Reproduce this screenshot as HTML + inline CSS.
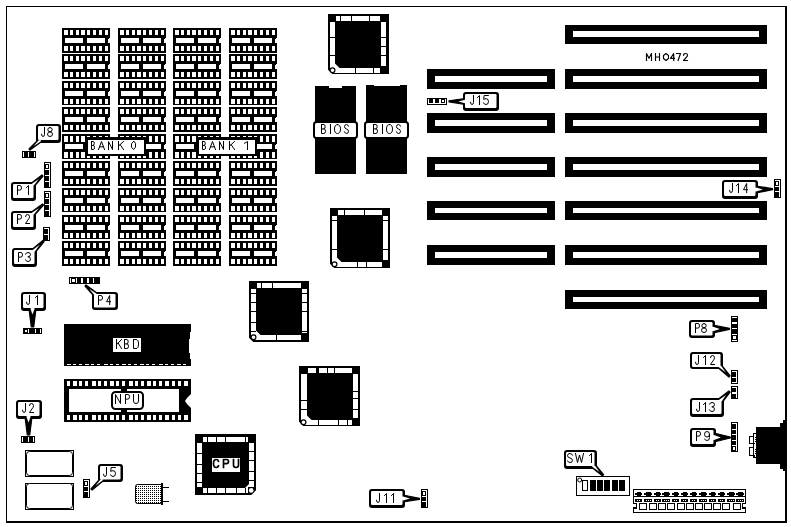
<!DOCTYPE html>
<html><head><meta charset="utf-8"><title>MH0472</title>
<style>
html,body{margin:0;padding:0;background:#fff;}
body{width:791px;height:527px;overflow:hidden;}
svg{display:block;font-family:"Liberation Sans",sans-serif;}
</style></head><body>
<svg width="791" height="527" viewBox="0 0 791 527" shape-rendering="crispEdges">
<rect x="0" y="0" width="791" height="527" fill="#fff"/>
<rect x="6" y="6" width="781" height="1" fill="#000" />
<rect x="6" y="6" width="1" height="517" fill="#000" />
<rect x="785" y="6" width="2" height="517" fill="#000" />
<rect x="6" y="521" width="781" height="2" fill="#000" />
<defs><g id="mc">
<rect x="0" y="0" width="48" height="25" fill="#000" />
<rect x="2" y="2" width="4" height="5" fill="#fff" />
<rect x="2" y="18" width="4" height="5" fill="#fff" />
<rect x="8" y="2" width="3" height="5" fill="#fff" />
<rect x="8" y="18" width="3" height="5" fill="#fff" />
<rect x="14" y="2" width="3" height="5" fill="#fff" />
<rect x="14" y="18" width="3" height="5" fill="#fff" />
<rect x="19" y="2" width="4" height="5" fill="#fff" />
<rect x="19" y="18" width="4" height="5" fill="#fff" />
<rect x="25" y="2" width="3" height="5" fill="#fff" />
<rect x="25" y="18" width="3" height="5" fill="#fff" />
<rect x="31" y="2" width="3" height="5" fill="#fff" />
<rect x="31" y="18" width="3" height="5" fill="#fff" />
<rect x="37" y="2" width="3" height="5" fill="#fff" />
<rect x="37" y="18" width="3" height="5" fill="#fff" />
<rect x="43" y="2" width="3" height="5" fill="#fff" />
<rect x="43" y="18" width="3" height="5" fill="#fff" />
<rect x="3" y="10" width="18" height="5" fill="#fff" />
<rect x="25" y="10" width="18" height="5" fill="#fff" />
<rect x="46" y="11" width="2" height="4" fill="#fff" />
<rect x="47" y="10" width="1" height="1" fill="#fff" />
</g><g id="md">
<rect x="0" y="0" width="48" height="24" fill="#000" />
<rect x="2" y="2" width="4" height="5" fill="#fff" />
<rect x="2" y="18" width="4" height="5" fill="#fff" />
<rect x="8" y="2" width="3" height="5" fill="#fff" />
<rect x="8" y="18" width="3" height="5" fill="#fff" />
<rect x="14" y="2" width="3" height="5" fill="#fff" />
<rect x="14" y="18" width="3" height="5" fill="#fff" />
<rect x="19" y="2" width="4" height="5" fill="#fff" />
<rect x="19" y="18" width="4" height="5" fill="#fff" />
<rect x="25" y="2" width="3" height="5" fill="#fff" />
<rect x="25" y="18" width="3" height="5" fill="#fff" />
<rect x="31" y="2" width="3" height="5" fill="#fff" />
<rect x="31" y="18" width="3" height="5" fill="#fff" />
<rect x="37" y="2" width="3" height="5" fill="#fff" />
<rect x="37" y="18" width="3" height="5" fill="#fff" />
<rect x="43" y="2" width="3" height="5" fill="#fff" />
<rect x="43" y="18" width="3" height="5" fill="#fff" />
<rect x="3" y="10" width="18" height="5" fill="#fff" />
<rect x="25" y="10" width="18" height="5" fill="#fff" />
<rect x="46" y="11" width="2" height="4" fill="#fff" />
<rect x="47" y="10" width="1" height="1" fill="#fff" />
</g><g id="me">
<rect x="0" y="0" width="48" height="25" fill="#000" />
<rect x="2" y="2" width="4" height="6" fill="#fff" />
<rect x="2" y="18" width="4" height="6" fill="#fff" />
<rect x="8" y="2" width="3" height="6" fill="#fff" />
<rect x="8" y="18" width="3" height="6" fill="#fff" />
<rect x="14" y="2" width="3" height="6" fill="#fff" />
<rect x="14" y="18" width="3" height="6" fill="#fff" />
<rect x="19" y="2" width="4" height="6" fill="#fff" />
<rect x="19" y="18" width="4" height="6" fill="#fff" />
<rect x="25" y="2" width="3" height="6" fill="#fff" />
<rect x="25" y="18" width="3" height="6" fill="#fff" />
<rect x="31" y="2" width="3" height="6" fill="#fff" />
<rect x="31" y="18" width="3" height="6" fill="#fff" />
<rect x="37" y="2" width="3" height="6" fill="#fff" />
<rect x="37" y="18" width="3" height="6" fill="#fff" />
<rect x="43" y="2" width="3" height="6" fill="#fff" />
<rect x="43" y="18" width="3" height="6" fill="#fff" />
<rect x="3" y="10" width="18" height="5" fill="#fff" />
<rect x="25" y="10" width="18" height="5" fill="#fff" />
<rect x="46" y="11" width="2" height="4" fill="#fff" />
<rect x="47" y="10" width="1" height="1" fill="#fff" />
</g></defs>
<use href="#mc" x="62" y="28"/>
<use href="#mc" x="62" y="54"/>
<use href="#md" x="62" y="81"/>
<use href="#mc" x="62" y="107"/>
<use href="#me" x="62" y="134"/>
<use href="#mc" x="62" y="161"/>
<use href="#md" x="62" y="188"/>
<use href="#md" x="62" y="215"/>
<use href="#mc" x="62" y="241"/>
<use href="#mc" x="118" y="28"/>
<use href="#mc" x="118" y="54"/>
<use href="#md" x="118" y="81"/>
<use href="#mc" x="118" y="107"/>
<use href="#me" x="118" y="134"/>
<use href="#mc" x="118" y="161"/>
<use href="#md" x="118" y="188"/>
<use href="#md" x="118" y="215"/>
<use href="#mc" x="118" y="241"/>
<use href="#mc" x="173" y="28"/>
<use href="#mc" x="173" y="54"/>
<use href="#md" x="173" y="81"/>
<use href="#mc" x="173" y="107"/>
<use href="#me" x="173" y="134"/>
<use href="#mc" x="173" y="161"/>
<use href="#md" x="173" y="188"/>
<use href="#md" x="173" y="215"/>
<use href="#mc" x="173" y="241"/>
<use href="#mc" x="229" y="28"/>
<use href="#mc" x="229" y="54"/>
<use href="#md" x="229" y="81"/>
<use href="#mc" x="229" y="107"/>
<use href="#me" x="229" y="134"/>
<use href="#mc" x="229" y="161"/>
<use href="#md" x="229" y="188"/>
<use href="#md" x="229" y="215"/>
<use href="#mc" x="229" y="241"/>
<rect x="565" y="25" width="202" height="19" fill="#000" />
<rect x="573" y="31" width="186" height="6" fill="#fff" />
<rect x="565" y="69" width="202" height="20" fill="#000" />
<rect x="573" y="76" width="186" height="6" fill="#fff" />
<rect x="565" y="113" width="202" height="20" fill="#000" />
<rect x="573" y="120" width="186" height="6" fill="#fff" />
<rect x="565" y="157" width="202" height="20" fill="#000" />
<rect x="573" y="164" width="186" height="6" fill="#fff" />
<rect x="565" y="201" width="202" height="19" fill="#000" />
<rect x="573" y="208" width="186" height="5" fill="#fff" />
<rect x="565" y="245" width="202" height="20" fill="#000" />
<rect x="573" y="252" width="186" height="6" fill="#fff" />
<rect x="565" y="290" width="202" height="19" fill="#000" />
<rect x="573" y="297" width="186" height="5" fill="#fff" />
<rect x="427" y="69" width="128" height="20" fill="#000" />
<rect x="435" y="76" width="112" height="6" fill="#fff" />
<rect x="427" y="113" width="128" height="20" fill="#000" />
<rect x="435" y="120" width="112" height="6" fill="#fff" />
<rect x="427" y="157" width="128" height="20" fill="#000" />
<rect x="435" y="164" width="112" height="6" fill="#fff" />
<rect x="427" y="201" width="128" height="19" fill="#000" />
<rect x="435" y="208" width="112" height="5" fill="#fff" />
<rect x="427" y="245" width="128" height="20" fill="#000" />
<rect x="435" y="252" width="112" height="6" fill="#fff" />
<rect x="328" y="14" width="61" height="60" fill="#000" />
<rect x="336" y="16" width="44" height="5" fill="#fff" />
<rect x="336" y="68" width="44" height="5" fill="#fff" />
<rect x="330" y="22" width="5" height="45" fill="#fff" />
<rect x="381" y="22" width="5" height="44" fill="#fff" />
<rect x="340" y="16" width="1" height="5" fill="#000" />
<rect x="351" y="16" width="1" height="5" fill="#000" />
<rect x="369" y="16" width="1" height="5" fill="#000" />
<rect x="355" y="68" width="1" height="5" fill="#000" />
<rect x="373" y="68" width="1" height="5" fill="#000" />
<rect x="330" y="37" width="5" height="1" fill="#000" />
<rect x="330" y="55" width="5" height="1" fill="#000" />
<rect x="381" y="37" width="5" height="1" fill="#000" />
<rect x="381" y="46" width="5" height="1" fill="#000" />
<rect x="381" y="55" width="5" height="1" fill="#000" />
<polygon points="328,69.5 328,74 332.5,74" fill="#fff" shape-rendering="auto"/>
<rect x="330" y="67" width="5" height="4" fill="#fff" />
<rect x="332" y="68" width="4" height="5" fill="#fff" />
<polygon points="335,63.5 335,68 339.5,68" fill="#fff" shape-rendering="auto"/>
<line x1="328.5" y1="69" x2="333" y2="73.5" stroke="#000" stroke-width="1.6" shape-rendering="auto"/>
<circle cx="332.5" cy="70.3" r="2.4" fill="#fff" stroke="#000" stroke-width="1.2" shape-rendering="auto"/>
<rect x="330" y="208" width="60" height="60" fill="#000" />
<rect x="338" y="210" width="44" height="5" fill="#fff" />
<rect x="338" y="262" width="44" height="5" fill="#fff" />
<rect x="332" y="216" width="5" height="45" fill="#fff" />
<rect x="383" y="216" width="5" height="44" fill="#fff" />
<rect x="344" y="210" width="1" height="5" fill="#000" />
<rect x="364" y="210" width="1" height="5" fill="#000" />
<rect x="357" y="262" width="1" height="5" fill="#000" />
<rect x="366" y="262" width="1" height="5" fill="#000" />
<rect x="332" y="220" width="5" height="1" fill="#000" />
<rect x="332" y="249" width="5" height="1" fill="#000" />
<rect x="383" y="220" width="5" height="1" fill="#000" />
<rect x="383" y="249" width="5" height="1" fill="#000" />
<polygon points="330,263.5 330,268 334.5,268" fill="#fff" shape-rendering="auto"/>
<rect x="332" y="261" width="5" height="4" fill="#fff" />
<rect x="334" y="262" width="4" height="5" fill="#fff" />
<polygon points="337,257.5 337,262 341.5,262" fill="#fff" shape-rendering="auto"/>
<line x1="330.5" y1="263" x2="335" y2="267.5" stroke="#000" stroke-width="1.6" shape-rendering="auto"/>
<circle cx="334.5" cy="264.3" r="2.4" fill="#fff" stroke="#000" stroke-width="1.2" shape-rendering="auto"/>
<rect x="249" y="281" width="60" height="61" fill="#000" />
<rect x="257" y="283" width="44" height="5" fill="#fff" />
<rect x="257" y="335" width="44" height="5" fill="#fff" />
<rect x="251" y="289" width="5" height="45" fill="#fff" />
<rect x="302" y="289" width="5" height="44" fill="#fff" />
<rect x="261" y="283" width="1" height="5" fill="#000" />
<rect x="272" y="283" width="1" height="5" fill="#000" />
<rect x="276" y="335" width="1" height="5" fill="#000" />
<rect x="251" y="293" width="5" height="1" fill="#000" />
<rect x="251" y="302" width="5" height="1" fill="#000" />
<rect x="251" y="311" width="5" height="1" fill="#000" />
<rect x="251" y="322" width="5" height="1" fill="#000" />
<rect x="251" y="331" width="5" height="1" fill="#000" />
<rect x="302" y="293" width="5" height="1" fill="#000" />
<rect x="302" y="302" width="5" height="1" fill="#000" />
<rect x="302" y="311" width="5" height="1" fill="#000" />
<rect x="302" y="331" width="5" height="1" fill="#000" />
<polygon points="249,337.5 249,342 253.5,342" fill="#fff" shape-rendering="auto"/>
<rect x="251" y="334" width="5" height="4" fill="#fff" />
<rect x="253" y="335" width="4" height="5" fill="#fff" />
<polygon points="256,330.5 256,335 260.5,335" fill="#fff" shape-rendering="auto"/>
<line x1="249.5" y1="337" x2="254" y2="341.5" stroke="#000" stroke-width="1.6" shape-rendering="auto"/>
<circle cx="253.5" cy="337.3" r="2.4" fill="#fff" stroke="#000" stroke-width="1.2" shape-rendering="auto"/>
<rect x="299" y="366" width="61" height="60" fill="#000" />
<rect x="308" y="368" width="44" height="5" fill="#fff" />
<rect x="308" y="420" width="44" height="5" fill="#fff" />
<rect x="301" y="374" width="6" height="45" fill="#fff" />
<rect x="353" y="374" width="5" height="44" fill="#fff" />
<rect x="316" y="368" width="1" height="5" fill="#000" />
<rect x="317" y="368" width="1" height="5" fill="#000" />
<rect x="318" y="368" width="1" height="5" fill="#000" />
<rect x="327" y="368" width="1" height="5" fill="#000" />
<rect x="334" y="368" width="1" height="5" fill="#000" />
<rect x="318" y="420" width="1" height="5" fill="#000" />
<rect x="338" y="420" width="1" height="5" fill="#000" />
<rect x="347" y="420" width="1" height="5" fill="#000" />
<rect x="301" y="400" width="6" height="1" fill="#000" />
<rect x="301" y="409" width="6" height="1" fill="#000" />
<rect x="353" y="391" width="5" height="1" fill="#000" />
<rect x="353" y="398" width="5" height="1" fill="#000" />
<rect x="353" y="409" width="5" height="1" fill="#000" />
<polygon points="299,421.5 299,426 303.5,426" fill="#fff" shape-rendering="auto"/>
<rect x="301" y="419" width="6" height="4" fill="#fff" />
<rect x="303" y="420" width="5" height="5" fill="#fff" />
<polygon points="307,415.5 307,420 311.5,420" fill="#fff" shape-rendering="auto"/>
<line x1="299.5" y1="421" x2="304" y2="425.5" stroke="#000" stroke-width="1.6" shape-rendering="auto"/>
<circle cx="303.5" cy="422.3" r="2.4" fill="#fff" stroke="#000" stroke-width="1.2" shape-rendering="auto"/>
<rect x="195" y="434" width="61" height="61" fill="#000" />
<rect x="203" y="437" width="45" height="5" fill="#fff" />
<rect x="203" y="488" width="45" height="5" fill="#fff" />
<rect x="197" y="443" width="5" height="44" fill="#fff" />
<rect x="249" y="443" width="5" height="43" fill="#fff" />
<rect x="207" y="437" width="1" height="5" fill="#000" />
<rect x="216" y="437" width="1" height="5" fill="#000" />
<rect x="225" y="437" width="1" height="5" fill="#000" />
<rect x="245" y="437" width="1" height="5" fill="#000" />
<rect x="207" y="488" width="1" height="5" fill="#000" />
<rect x="216" y="488" width="1" height="5" fill="#000" />
<rect x="225" y="488" width="1" height="5" fill="#000" />
<rect x="236" y="488" width="1" height="5" fill="#000" />
<rect x="245" y="488" width="1" height="5" fill="#000" />
<rect x="197" y="453" width="5" height="1" fill="#000" />
<rect x="197" y="464" width="5" height="1" fill="#000" />
<rect x="197" y="473" width="5" height="1" fill="#000" />
<rect x="197" y="482" width="5" height="1" fill="#000" />
<rect x="249" y="451" width="5" height="1" fill="#000" />
<rect x="249" y="460" width="5" height="1" fill="#000" />
<rect x="249" y="471" width="5" height="1" fill="#000" />
<rect x="249" y="480" width="5" height="1" fill="#000" />
<polygon points="256,490.5 256,495 251.5,495" fill="#fff" shape-rendering="auto"/>
<polygon points="249,484 249,488 245,488" fill="#fff" shape-rendering="auto"/>
<rect x="247" y="488" width="2" height="5" fill="#fff" />
<rect x="249" y="485" width="5" height="2" fill="#fff" />
<rect x="248" y="487" width="6" height="7" fill="#000" />
<polygon points="256,490.5 256,495 251.5,495" fill="#fff" shape-rendering="auto"/>
<circle cx="251.2" cy="490.4" r="2.3" fill="#fff" shape-rendering="auto"/>
<rect x="212" y="458" width="28" height="14" fill="#fff" />
<g fill="none" stroke="#000" stroke-width="1.7" stroke-linecap="square" stroke-linejoin="round" shape-rendering="auto"><path transform="translate(213.5,459.5) scale(1.000,0.889)" d="M5,2 Q4.5,0 2.7,0 Q0,0 0,4.5 Q0,9 2.7,9 Q4.5,9 5,7" vector-effect="non-scaling-stroke"/><path transform="translate(223.5,459.5) scale(1.000,0.889)" d="M0,9 V0 H3 Q5,0 5,2.3 Q5,4.6 3,4.6 H0" vector-effect="non-scaling-stroke"/><path transform="translate(233.5,459.5) scale(1.000,0.889)" d="M0,0 V6.6 Q0,9 2.5,9 Q5,9 5,6.6 V0" vector-effect="non-scaling-stroke"/></g>
<rect x="315" y="86" width="41" height="88" fill="#000" />
<rect x="329" y="86" width="13" height="2" fill="#fff" />
<rect x="366" y="85" width="41" height="89" fill="#000" />
<rect x="374" y="85" width="26" height="1" fill="#fff" />
<rect x="314.0" y="122.0" width="43" height="16" rx="2.5" ry="2.5" fill="#fff" stroke="#000" stroke-width="2" shape-rendering="auto"/>
<g fill="none" stroke="#000" stroke-width="1.0" stroke-linecap="square" stroke-linejoin="round" shape-rendering="auto"><path transform="translate(321.5,124.5) scale(0.800,1.000)" d="M0,0 V9 H3 Q5,9 5,6.7 Q5,4.4 3,4.4 H0 M3,4.4 Q4.6,4.4 4.6,2.2 Q4.6,0 3,0 H0" vector-effect="non-scaling-stroke"/><path transform="translate(330.5,124.5) scale(1.000,1.000)" d="M0,0 V9" vector-effect="non-scaling-stroke"/><path transform="translate(334.5,124.5) scale(0.857,1.000)" d="M3.5,0 Q0,0 0,4.5 Q0,9 3.5,9 Q7,9 7,4.5 Q7,0 3.5,0" vector-effect="non-scaling-stroke"/><path transform="translate(344.5,124.5) scale(0.800,1.000)" d="M5,1.6 Q4.4,0 2.5,0 Q0,0 0,2.2 Q0,3.9 2.5,4.5 Q5,5.1 5,6.8 Q5,9 2.5,9 Q0.6,9 0,7.4" vector-effect="non-scaling-stroke"/></g>
<rect x="365.0" y="122.0" width="43" height="16" rx="2.5" ry="2.5" fill="#fff" stroke="#000" stroke-width="2" shape-rendering="auto"/>
<g fill="none" stroke="#000" stroke-width="1.0" stroke-linecap="square" stroke-linejoin="round" shape-rendering="auto"><path transform="translate(373.5,124.5) scale(0.800,1.000)" d="M0,0 V9 H3 Q5,9 5,6.7 Q5,4.4 3,4.4 H0 M3,4.4 Q4.6,4.4 4.6,2.2 Q4.6,0 3,0 H0" vector-effect="non-scaling-stroke"/><path transform="translate(382.5,124.5) scale(1.000,1.000)" d="M0,0 V9" vector-effect="non-scaling-stroke"/><path transform="translate(386.5,124.5) scale(0.857,1.000)" d="M3.5,0 Q0,0 0,4.5 Q0,9 3.5,9 Q7,9 7,4.5 Q7,0 3.5,0" vector-effect="non-scaling-stroke"/><path transform="translate(396.5,124.5) scale(0.800,1.000)" d="M5,1.6 Q4.4,0 2.5,0 Q0,0 0,2.2 Q0,3.9 2.5,4.5 Q5,5.1 5,6.8 Q5,9 2.5,9 Q0.6,9 0,7.4" vector-effect="non-scaling-stroke"/></g>
<rect x="64" y="324" width="127" height="42" fill="#000" />
<rect x="190" y="332" width="1" height="27" fill="#fff" />
<rect x="189" y="339" width="1" height="14" fill="#fff" />
<rect x="67" y="364" width="4" height="1" fill="#fff" />
<rect x="73" y="364" width="3" height="1" fill="#fff" />
<rect x="79" y="364" width="3" height="1" fill="#fff" />
<rect x="85" y="364" width="4" height="1" fill="#fff" />
<rect x="91" y="364" width="3" height="1" fill="#fff" />
<rect x="97" y="364" width="3" height="1" fill="#fff" />
<rect x="104" y="364" width="4" height="1" fill="#fff" />
<rect x="110" y="364" width="3" height="1" fill="#fff" />
<rect x="116" y="364" width="3" height="1" fill="#fff" />
<rect x="122" y="364" width="4" height="1" fill="#fff" />
<rect x="128" y="364" width="3" height="1" fill="#fff" />
<rect x="134" y="364" width="3" height="1" fill="#fff" />
<rect x="140" y="364" width="4" height="1" fill="#fff" />
<rect x="146" y="364" width="3" height="1" fill="#fff" />
<rect x="152" y="364" width="3" height="1" fill="#fff" />
<rect x="159" y="364" width="4" height="1" fill="#fff" />
<rect x="165" y="364" width="3" height="1" fill="#fff" />
<rect x="171" y="364" width="3" height="1" fill="#fff" />
<rect x="177" y="364" width="4" height="1" fill="#fff" />
<rect x="183" y="364" width="3" height="1" fill="#fff" />
<rect x="113" y="338" width="28" height="14" fill="#fff" />
<g fill="none" stroke="#000" stroke-width="1.0" stroke-linecap="square" stroke-linejoin="round" shape-rendering="auto"><path transform="translate(116.5,339.5) scale(1.000,1.000)" d="M0,0 V9 M5,0 L0,5.2 M1.7,3.6 L5,9" vector-effect="non-scaling-stroke"/><path transform="translate(124.5,339.5) scale(0.800,1.000)" d="M0,0 V9 H3 Q5,9 5,6.7 Q5,4.4 3,4.4 H0 M3,4.4 Q4.6,4.4 4.6,2.2 Q4.6,0 3,0 H0" vector-effect="non-scaling-stroke"/><path transform="translate(133.5,339.5) scale(1.000,1.000)" d="M0,0 V9 H2.5 Q5,9 5,4.5 Q5,0 2.5,0 H0" vector-effect="non-scaling-stroke"/></g>
<rect x="64" y="379" width="127" height="43" fill="#000" />
<rect x="67" y="381" width="3" height="5" fill="#fff" />
<rect x="67" y="415" width="3" height="5" fill="#fff" />
<rect x="73" y="381" width="4" height="5" fill="#fff" />
<rect x="73" y="415" width="4" height="5" fill="#fff" />
<rect x="79" y="381" width="3" height="5" fill="#fff" />
<rect x="79" y="415" width="3" height="5" fill="#fff" />
<rect x="85" y="381" width="3" height="5" fill="#fff" />
<rect x="85" y="415" width="3" height="5" fill="#fff" />
<rect x="92" y="381" width="4" height="5" fill="#fff" />
<rect x="92" y="415" width="4" height="5" fill="#fff" />
<rect x="98" y="381" width="3" height="5" fill="#fff" />
<rect x="98" y="415" width="3" height="5" fill="#fff" />
<rect x="104" y="381" width="3" height="5" fill="#fff" />
<rect x="104" y="415" width="3" height="5" fill="#fff" />
<rect x="110" y="381" width="4" height="5" fill="#fff" />
<rect x="110" y="415" width="4" height="5" fill="#fff" />
<rect x="116" y="381" width="3" height="5" fill="#fff" />
<rect x="116" y="415" width="3" height="5" fill="#fff" />
<rect x="122" y="381" width="3" height="5" fill="#fff" />
<rect x="122" y="415" width="3" height="5" fill="#fff" />
<rect x="129" y="381" width="4" height="5" fill="#fff" />
<rect x="129" y="415" width="4" height="5" fill="#fff" />
<rect x="135" y="381" width="3" height="5" fill="#fff" />
<rect x="135" y="415" width="3" height="5" fill="#fff" />
<rect x="141" y="381" width="3" height="5" fill="#fff" />
<rect x="141" y="415" width="3" height="5" fill="#fff" />
<rect x="147" y="381" width="4" height="5" fill="#fff" />
<rect x="147" y="415" width="4" height="5" fill="#fff" />
<rect x="153" y="381" width="3" height="5" fill="#fff" />
<rect x="153" y="415" width="3" height="5" fill="#fff" />
<rect x="159" y="381" width="3" height="5" fill="#fff" />
<rect x="159" y="415" width="3" height="5" fill="#fff" />
<rect x="165" y="381" width="4" height="5" fill="#fff" />
<rect x="165" y="415" width="4" height="5" fill="#fff" />
<rect x="172" y="381" width="3" height="5" fill="#fff" />
<rect x="172" y="415" width="3" height="5" fill="#fff" />
<rect x="178" y="381" width="3" height="5" fill="#fff" />
<rect x="178" y="415" width="3" height="5" fill="#fff" />
<rect x="184" y="381" width="4" height="5" fill="#fff" />
<rect x="184" y="415" width="4" height="5" fill="#fff" />
<rect x="69" y="389" width="110" height="23" fill="#fff" />
<rect x="121" y="389" width="6" height="23" fill="#000" />
<polygon points="191,394 191,408 187,404 185,401 187,398" fill="#fff" shape-rendering="auto"/>
<rect x="112.0" y="392.0" width="31" height="17" rx="3.5" ry="3.5" fill="#fff" stroke="#000" stroke-width="2" shape-rendering="auto"/>
<rect x="142" y="394" width="1" height="13" fill="#000" />
<g fill="none" stroke="#000" stroke-width="1.0" stroke-linecap="square" stroke-linejoin="round" shape-rendering="auto"><path transform="translate(115.5,394.5) scale(1.000,1.000)" d="M0,9 V0 L5,9 V0" vector-effect="non-scaling-stroke"/><path transform="translate(125.5,394.5) scale(0.800,1.000)" d="M0,9 V0 H3 Q5,0 5,2.3 Q5,4.6 3,4.6 H0" vector-effect="non-scaling-stroke"/><path transform="translate(133.5,394.5) scale(1.000,1.000)" d="M0,0 V6.6 Q0,9 2.5,9 Q5,9 5,6.6 V0" vector-effect="non-scaling-stroke"/></g>
<rect x="87" y="137" width="59" height="19" fill="#000" />
<rect x="88" y="140" width="56" height="14" fill="#fff" />
<g fill="none" stroke="#000" stroke-width="1.0" stroke-linecap="square" stroke-linejoin="round" shape-rendering="auto"><path transform="translate(91.5,141.5) scale(0.600,0.889)" d="M0,0 V9 H3 Q5,9 5,6.7 Q5,4.4 3,4.4 H0 M3,4.4 Q4.6,4.4 4.6,2.2 Q4.6,0 3,0 H0" vector-effect="non-scaling-stroke"/><path transform="translate(98.5,141.5) scale(1.000,0.889)" d="M0,9 L3,0 L6,9 M1.1,6 H4.9" vector-effect="non-scaling-stroke"/><path transform="translate(108.5,141.5) scale(0.800,0.889)" d="M0,9 V0 L5,9 V0" vector-effect="non-scaling-stroke"/><path transform="translate(118.5,141.5) scale(1.000,0.889)" d="M0,0 V9 M5,0 L0,5.2 M1.7,3.6 L5,9" vector-effect="non-scaling-stroke"/><path transform="translate(131.5,141.5) scale(1.000,0.889)" d="M2,0 L0,2.6 V6.4 L2,9 L4,6.4 V2.6 Z" vector-effect="non-scaling-stroke"/></g>
<rect x="198" y="137" width="59" height="19" fill="#000" />
<rect x="199" y="140" width="56" height="14" fill="#fff" />
<g fill="none" stroke="#000" stroke-width="1.0" stroke-linecap="square" stroke-linejoin="round" shape-rendering="auto"><path transform="translate(202.5,141.5) scale(0.600,0.889)" d="M0,0 V9 H3 Q5,9 5,6.7 Q5,4.4 3,4.4 H0 M3,4.4 Q4.6,4.4 4.6,2.2 Q4.6,0 3,0 H0" vector-effect="non-scaling-stroke"/><path transform="translate(209.5,141.5) scale(1.000,0.889)" d="M0,9 L3,0 L6,9 M1.1,6 H4.9" vector-effect="non-scaling-stroke"/><path transform="translate(219.5,141.5) scale(0.800,0.889)" d="M0,9 V0 L5,9 V0" vector-effect="non-scaling-stroke"/><path transform="translate(229.5,141.5) scale(1.000,0.889)" d="M0,0 V9 M5,0 L0,5.2 M1.7,3.6 L5,9" vector-effect="non-scaling-stroke"/><path transform="translate(244.5,141.5) scale(1.000,0.889)" d="M0,2 L3,0 V9" vector-effect="non-scaling-stroke"/></g>
<g fill="none" stroke="#000" stroke-width="1.15" stroke-linecap="square" stroke-linejoin="round" shape-rendering="auto"><path transform="translate(646.5,53.5) scale(0.833,0.778)" d="M0,9 V0 L3,6 L6,0 V9" vector-effect="non-scaling-stroke"/><path transform="translate(655.5,53.5) scale(0.800,0.778)" d="M0,0 V9 M5,0 V9 M0,4.5 H5" vector-effect="non-scaling-stroke"/><path transform="translate(663.5,53.5) scale(1.250,0.778)" d="M2,0 L0,2.6 V6.4 L2,9 L4,6.4 V2.6 Z" vector-effect="non-scaling-stroke"/><path transform="translate(670.5,53.5) scale(0.800,0.778)" d="M4,9 V0 L0,6.2 H5" vector-effect="non-scaling-stroke"/><path transform="translate(676.5,53.5) scale(0.800,0.778)" d="M0,0 H5 L2,9" vector-effect="non-scaling-stroke"/><path transform="translate(683.5,53.5) scale(0.800,0.778)" d="M0,2 Q0,0 2.5,0 Q5,0 5,2.2 Q5,3.8 3,5.5 L0,9 H5" vector-effect="non-scaling-stroke"/></g>
<polygon points="37.5,140.5 29.0,148.9 30.0,150.1 41,142" fill="#000" stroke="#000" stroke-width="1.2" stroke-linejoin="round" shape-rendering="auto"/>
<rect x="36" y="124" width="25" height="19" rx="3.0" ry="3.0" fill="#000" shape-rendering="auto"/>
<rect x="38" y="126" width="20.5" height="14" rx="1.2" ry="1.2" fill="#fff" shape-rendering="auto"/>
<polygon points="39.6,139.9 38.3,140.8 33.4,146.2 40.2,141.7 41.4,140.5" fill="#fff" shape-rendering="auto"/>
<g fill="none" stroke="#000" stroke-width="1.0" stroke-linecap="square" stroke-linejoin="round" shape-rendering="auto"><path transform="translate(41.5,127.5) scale(0.750,1.000)" d="M4,0 V6.8 Q4,9 2,9 Q0,9 0,6.8" vector-effect="non-scaling-stroke"/><path transform="translate(47.5,127.5) scale(1.000,1.000)" d="M2.5,0 Q0.3,0 0.3,2.1 Q0.3,4.3 2.5,4.3 Q4.7,4.3 4.7,2.1 Q4.7,0 2.5,0 M2.5,4.3 Q0,4.3 0,6.6 Q0,9 2.5,9 Q5,9 5,6.6 Q5,4.3 2.5,4.3" vector-effect="non-scaling-stroke"/></g>
<polygon points="31.5,183 42.0,174.9 43.0,176.1 35,185.5" fill="#000" stroke="#000" stroke-width="1.2" stroke-linejoin="round" shape-rendering="auto"/>
<rect x="11" y="182" width="25" height="19" rx="3.0" ry="3.0" fill="#000" shape-rendering="auto"/>
<rect x="13" y="184" width="20.5" height="14" rx="1.2" ry="1.2" fill="#fff" shape-rendering="auto"/>
<polygon points="31.1,184.6 32.3,183.6 38.8,179.0 34.2,184.9 32.9,185.8" fill="#fff" shape-rendering="auto"/>
<g fill="none" stroke="#000" stroke-width="1.0" stroke-linecap="square" stroke-linejoin="round" shape-rendering="auto"><path transform="translate(17.5,185.5) scale(0.800,1.000)" d="M0,9 V0 H3 Q5,0 5,2.3 Q5,4.6 3,4.6 H0" vector-effect="non-scaling-stroke"/><path transform="translate(26.5,185.5) scale(0.667,1.000)" d="M0,2 L3,0 V9" vector-effect="non-scaling-stroke"/></g>
<polygon points="31.5,212 42.5,203.9 43.5,205.1 35,214.5" fill="#000" stroke="#000" stroke-width="1.2" stroke-linejoin="round" shape-rendering="auto"/>
<rect x="11" y="211" width="25" height="19" rx="3.0" ry="3.0" fill="#000" shape-rendering="auto"/>
<rect x="13" y="213" width="20.5" height="14" rx="1.2" ry="1.2" fill="#fff" shape-rendering="auto"/>
<polygon points="31.1,213.6 32.3,212.6 39.1,208.0 34.2,213.9 32.9,214.8" fill="#fff" shape-rendering="auto"/>
<g fill="none" stroke="#000" stroke-width="1.0" stroke-linecap="square" stroke-linejoin="round" shape-rendering="auto"><path transform="translate(17.5,214.5) scale(0.800,1.000)" d="M0,9 V0 H3 Q5,0 5,2.3 Q5,4.6 3,4.6 H0" vector-effect="non-scaling-stroke"/><path transform="translate(25.5,214.5) scale(0.800,1.000)" d="M0,2 Q0,0 2.5,0 Q5,0 5,2.2 Q5,3.8 3,5.5 L0,9 H5" vector-effect="non-scaling-stroke"/></g>
<polygon points="32.5,249 42.9,240.4 44.1,241.6 36,251.5" fill="#000" stroke="#000" stroke-width="1.2" stroke-linejoin="round" shape-rendering="auto"/>
<rect x="12" y="248" width="25" height="19" rx="3.0" ry="3.0" fill="#000" shape-rendering="auto"/>
<rect x="14" y="250" width="20.5" height="14" rx="1.2" ry="1.2" fill="#fff" shape-rendering="auto"/>
<polygon points="32.1,250.6 33.3,249.6 39.8,244.7 35.2,250.9 33.9,251.8" fill="#fff" shape-rendering="auto"/>
<g fill="none" stroke="#000" stroke-width="1.0" stroke-linecap="square" stroke-linejoin="round" shape-rendering="auto"><path transform="translate(18.5,252.5) scale(0.800,1.000)" d="M0,9 V0 H3 Q5,0 5,2.3 Q5,4.6 3,4.6 H0" vector-effect="non-scaling-stroke"/><path transform="translate(25.5,252.5) scale(1.000,1.000)" d="M0,1.6 Q0.5,0 2.5,0 Q5,0 5,2.1 Q5,4.3 2.3,4.3 Q5,4.3 5,6.7 Q5,9 2.5,9 Q0.5,9 0,7.4" vector-effect="non-scaling-stroke"/></g>
<polygon points="29,309 31.3,327 33.7,327 36,309" fill="#000" stroke="#000" stroke-width="1.2" stroke-linejoin="round" shape-rendering="auto"/>
<rect x="21" y="292" width="25" height="19" rx="3.0" ry="3.0" fill="#000" shape-rendering="auto"/>
<rect x="23" y="294" width="20.5" height="14" rx="1.2" ry="1.2" fill="#fff" shape-rendering="auto"/>
<polygon points="31.1,307.5 30.5,309.0 32.5,314.4 34.5,309.0 34.3,307.4" fill="#fff" shape-rendering="auto"/>
<g fill="none" stroke="#000" stroke-width="1.0" stroke-linecap="square" stroke-linejoin="round" shape-rendering="auto"><path transform="translate(26.5,295.5) scale(0.750,1.000)" d="M4,0 V6.8 Q4,9 2,9 Q0,9 0,6.8" vector-effect="non-scaling-stroke"/><path transform="translate(35.5,295.5) scale(0.667,1.000)" d="M0,2 L3,0 V9" vector-effect="non-scaling-stroke"/></g>
<polygon points="93.5,295.5 85.0,286.1 86.0,284.9 97,293" fill="#000" stroke="#000" stroke-width="1.2" stroke-linejoin="round" shape-rendering="auto"/>
<rect x="92" y="292" width="26" height="18" rx="3.0" ry="3.0" fill="#000" shape-rendering="auto"/>
<rect x="94" y="294" width="21.5" height="13.5" rx="1.2" ry="1.2" fill="#fff" shape-rendering="auto"/>
<polygon points="95.7,295.7 94.3,294.9 89.4,289.0 96.2,293.6 97.4,294.6" fill="#fff" shape-rendering="auto"/>
<g fill="none" stroke="#000" stroke-width="1.0" stroke-linecap="square" stroke-linejoin="round" shape-rendering="auto"><path transform="translate(98.5,295.5) scale(0.800,1.000)" d="M0,9 V0 H3 Q5,0 5,2.3 Q5,4.6 3,4.6 H0" vector-effect="non-scaling-stroke"/><path transform="translate(106.5,295.5) scale(0.800,1.000)" d="M4,9 V0 L0,6.2 H5" vector-effect="non-scaling-stroke"/></g>
<polygon points="25,417 27.3,435 29.7,435 32,417" fill="#000" stroke="#000" stroke-width="1.2" stroke-linejoin="round" shape-rendering="auto"/>
<rect x="16" y="400" width="26" height="19" rx="3.0" ry="3.0" fill="#000" shape-rendering="auto"/>
<rect x="18" y="402" width="21.5" height="14" rx="1.2" ry="1.2" fill="#fff" shape-rendering="auto"/>
<polygon points="27.0,415.5 26.5,417.0 28.5,422.4 30.5,417.0 30.2,415.4" fill="#fff" shape-rendering="auto"/>
<g fill="none" stroke="#000" stroke-width="1.0" stroke-linecap="square" stroke-linejoin="round" shape-rendering="auto"><path transform="translate(22.5,403.5) scale(0.750,1.000)" d="M4,0 V6.8 Q4,9 2,9 Q0,9 0,6.8" vector-effect="non-scaling-stroke"/><path transform="translate(29.5,403.5) scale(0.800,1.000)" d="M0,2 Q0,0 2.5,0 Q5,0 5,2.2 Q5,3.8 3,5.5 L0,9 H5" vector-effect="non-scaling-stroke"/></g>
<polygon points="99.5,479.5 90.9,488.9 92.1,490.1 103,481" fill="#000" stroke="#000" stroke-width="1.2" stroke-linejoin="round" shape-rendering="auto"/>
<rect x="98" y="464" width="25" height="18" rx="3.0" ry="3.0" fill="#000" shape-rendering="auto"/>
<rect x="100" y="466" width="20.5" height="13.5" rx="1.2" ry="1.2" fill="#fff" shape-rendering="auto"/>
<polygon points="101.6,478.9 100.3,479.8 95.4,485.8 102.2,480.7 103.4,479.6" fill="#fff" shape-rendering="auto"/>
<g fill="none" stroke="#000" stroke-width="1.0" stroke-linecap="square" stroke-linejoin="round" shape-rendering="auto"><path transform="translate(103.5,467.5) scale(0.750,1.000)" d="M4,0 V6.8 Q4,9 2,9 Q0,9 0,6.8" vector-effect="non-scaling-stroke"/><path transform="translate(110.5,467.5) scale(1.000,1.000)" d="M4.8,0 H0.6 L0.2,4 Q1.2,3.2 2.5,3.2 Q5,3.2 5,6 Q5,9 2.5,9 Q0.6,9 0,7.4" vector-effect="non-scaling-stroke"/></g>
<polygon points="403,495 419.5,498.3 419.5,499.3 403,502" fill="#000" stroke="#000" stroke-width="1.2" stroke-linejoin="round" shape-rendering="auto"/>
<rect x="369" y="489" width="36" height="19" rx="3.0" ry="3.0" fill="#000" shape-rendering="auto"/>
<rect x="371" y="491" width="31.5" height="14" rx="1.2" ry="1.2" fill="#fff" shape-rendering="auto"/>
<polygon points="401.4,496.7 403.0,496.5 409.9,498.6 403.0,500.5 401.4,500.3" fill="#fff" shape-rendering="auto"/>
<g fill="none" stroke="#000" stroke-width="1.0" stroke-linecap="square" stroke-linejoin="round" shape-rendering="auto"><path transform="translate(376.5,493.5) scale(0.750,1.000)" d="M4,0 V6.8 Q4,9 2,9 Q0,9 0,6.8" vector-effect="non-scaling-stroke"/><path transform="translate(384.5,493.5) scale(0.667,1.000)" d="M0,2 L3,0 V9" vector-effect="non-scaling-stroke"/><path transform="translate(391.5,493.5) scale(0.667,1.000)" d="M0,2 L3,0 V9" vector-effect="non-scaling-stroke"/></g>
<polygon points="465,98.5 449.0,100.8 449.0,101.8 465,104.5" fill="#000" stroke="#000" stroke-width="1.2" stroke-linejoin="round" shape-rendering="auto"/>
<rect x="463" y="92" width="36" height="19" rx="3.0" ry="3.0" fill="#000" shape-rendering="auto"/>
<rect x="465" y="94" width="31.5" height="14" rx="1.2" ry="1.2" fill="#fff" shape-rendering="auto"/>
<polygon points="466.6,100.0 465.0,99.8 458.3,101.4 465.0,103.2 466.6,103.0" fill="#fff" shape-rendering="auto"/>
<g fill="none" stroke="#000" stroke-width="1.0" stroke-linecap="square" stroke-linejoin="round" shape-rendering="auto"><path transform="translate(470.5,95.5) scale(0.750,1.000)" d="M4,0 V6.8 Q4,9 2,9 Q0,9 0,6.8" vector-effect="non-scaling-stroke"/><path transform="translate(477.5,95.5) scale(0.667,1.000)" d="M0,2 L3,0 V9" vector-effect="non-scaling-stroke"/><path transform="translate(483.5,95.5) scale(1.000,1.000)" d="M4.8,0 H0.6 L0.2,4 Q1.2,3.2 2.5,3.2 Q5,3.2 5,6 Q5,9 2.5,9 Q0.6,9 0,7.4" vector-effect="non-scaling-stroke"/></g>
<polygon points="756,186 772.5,188.7 772.5,189.7 756,193" fill="#000" stroke="#000" stroke-width="1.2" stroke-linejoin="round" shape-rendering="auto"/>
<rect x="722" y="180" width="36" height="19" rx="3.0" ry="3.0" fill="#000" shape-rendering="auto"/>
<rect x="724" y="182" width="31.5" height="14" rx="1.2" ry="1.2" fill="#fff" shape-rendering="auto"/>
<polygon points="754.4,187.7 756.0,187.5 762.9,189.4 756.0,191.5 754.4,191.3" fill="#fff" shape-rendering="auto"/>
<g fill="none" stroke="#000" stroke-width="1.0" stroke-linecap="square" stroke-linejoin="round" shape-rendering="auto"><path transform="translate(729.5,183.5) scale(0.750,1.000)" d="M4,0 V6.8 Q4,9 2,9 Q0,9 0,6.8" vector-effect="non-scaling-stroke"/><path transform="translate(736.5,183.5) scale(0.667,1.000)" d="M0,2 L3,0 V9" vector-effect="non-scaling-stroke"/><path transform="translate(743.5,183.5) scale(0.800,1.000)" d="M4,9 V0 L0,6.2 H5" vector-effect="non-scaling-stroke"/></g>
<polygon points="713,325 729.5,328.3 729.5,329.3 713,333" fill="#000" stroke="#000" stroke-width="1.2" stroke-linejoin="round" shape-rendering="auto"/>
<rect x="689" y="320" width="26" height="18" rx="3.0" ry="3.0" fill="#000" shape-rendering="auto"/>
<rect x="691" y="322" width="21.5" height="13.5" rx="1.2" ry="1.2" fill="#fff" shape-rendering="auto"/>
<polygon points="711.4,327.1 713.0,326.8 719.9,328.9 713.0,331.2 711.4,330.9" fill="#fff" shape-rendering="auto"/>
<g fill="none" stroke="#000" stroke-width="1.0" stroke-linecap="square" stroke-linejoin="round" shape-rendering="auto"><path transform="translate(695.5,323.5) scale(0.800,1.000)" d="M0,9 V0 H3 Q5,0 5,2.3 Q5,4.6 3,4.6 H0" vector-effect="non-scaling-stroke"/><path transform="translate(701.5,323.5) scale(1.000,1.000)" d="M2.5,0 Q0.3,0 0.3,2.1 Q0.3,4.3 2.5,4.3 Q4.7,4.3 4.7,2.1 Q4.7,0 2.5,0 M2.5,4.3 Q0,4.3 0,6.6 Q0,9 2.5,9 Q5,9 5,6.6 Q5,4.3 2.5,4.3" vector-effect="non-scaling-stroke"/></g>
<polygon points="718.5,368 728.9,377.1 730.1,375.9 722,365.5" fill="#000" stroke="#000" stroke-width="1.2" stroke-linejoin="round" shape-rendering="auto"/>
<rect x="690" y="352" width="33" height="17" rx="3.0" ry="3.0" fill="#000" shape-rendering="auto"/>
<rect x="692" y="354" width="28.5" height="13" rx="1.2" ry="1.2" fill="#fff" shape-rendering="auto"/>
<polygon points="717.9,366.7 719.3,367.4 725.8,372.6 721.2,366.1 719.7,365.5" fill="#fff" shape-rendering="auto"/>
<g fill="none" stroke="#000" stroke-width="1.0" stroke-linecap="square" stroke-linejoin="round" shape-rendering="auto"><path transform="translate(695.5,355.5) scale(0.750,1.000)" d="M4,0 V6.8 Q4,9 2,9 Q0,9 0,6.8" vector-effect="non-scaling-stroke"/><path transform="translate(703.5,355.5) scale(0.667,1.000)" d="M0,2 L3,0 V9" vector-effect="non-scaling-stroke"/><path transform="translate(710.5,355.5) scale(0.800,1.000)" d="M0,2 Q0,0 2.5,0 Q5,0 5,2.2 Q5,3.8 3,5.5 L0,9 H5" vector-effect="non-scaling-stroke"/></g>
<polygon points="718.5,399 728.9,390.9 730.1,392.1 723,401.5" fill="#000" stroke="#000" stroke-width="1.2" stroke-linejoin="round" shape-rendering="auto"/>
<rect x="690" y="398" width="34" height="19" rx="3.0" ry="3.0" fill="#000" shape-rendering="auto"/>
<rect x="692" y="400" width="29.5" height="14" rx="1.2" ry="1.2" fill="#fff" shape-rendering="auto"/>
<polygon points="718.1,400.4 719.5,399.6 726.0,395.0 722.0,400.9 720.5,401.6" fill="#fff" shape-rendering="auto"/>
<g fill="none" stroke="#000" stroke-width="1.0" stroke-linecap="square" stroke-linejoin="round" shape-rendering="auto"><path transform="translate(696.5,402.5) scale(0.750,1.000)" d="M4,0 V6.8 Q4,9 2,9 Q0,9 0,6.8" vector-effect="non-scaling-stroke"/><path transform="translate(703.5,402.5) scale(0.667,1.000)" d="M0,2 L3,0 V9" vector-effect="non-scaling-stroke"/><path transform="translate(709.5,402.5) scale(1.000,1.000)" d="M0,1.6 Q0.5,0 2.5,0 Q5,0 5,2.1 Q5,4.3 2.3,4.3 Q5,4.3 5,6.7 Q5,9 2.5,9 Q0.5,9 0,7.4" vector-effect="non-scaling-stroke"/></g>
<polygon points="714,433 730.3,437.0 730.3,438.0 714,442" fill="#000" stroke="#000" stroke-width="1.2" stroke-linejoin="round" shape-rendering="auto"/>
<rect x="690" y="428" width="26" height="19" rx="3.0" ry="3.0" fill="#000" shape-rendering="auto"/>
<rect x="692" y="430" width="21.5" height="14" rx="1.2" ry="1.2" fill="#fff" shape-rendering="auto"/>
<polygon points="712.4,435.3 714.0,435.0 720.8,437.5 714.0,440.0 712.4,439.7" fill="#fff" shape-rendering="auto"/>
<g fill="none" stroke="#000" stroke-width="1.0" stroke-linecap="square" stroke-linejoin="round" shape-rendering="auto"><path transform="translate(696.5,431.5) scale(0.800,1.000)" d="M0,9 V0 H3 Q5,0 5,2.3 Q5,4.6 3,4.6 H0" vector-effect="non-scaling-stroke"/><path transform="translate(704.5,431.5) scale(1.000,1.000)" d="M5,2.9 Q5,5.6 2.5,5.6 Q0,5.6 0,2.8 Q0,0 2.5,0 Q5,0 5,2.9 V6 Q5,9 2.5,9 Q0.8,9 0.2,7.6" vector-effect="non-scaling-stroke"/></g>
<polygon points="592.5,468 602.4,475.9 603.6,474.7 596,465.5" fill="#000" stroke="#000" stroke-width="1.2" stroke-linejoin="round" shape-rendering="auto"/>
<rect x="564" y="450" width="33" height="19" rx="3.0" ry="3.0" fill="#000" shape-rendering="auto"/>
<rect x="566" y="452" width="28.5" height="14" rx="1.2" ry="1.2" fill="#fff" shape-rendering="auto"/>
<polygon points="591.9,466.6 593.3,467.4 599.5,471.9 595.2,466.1 593.8,465.4" fill="#fff" shape-rendering="auto"/>
<g fill="none" stroke="#000" stroke-width="1.0" stroke-linecap="square" stroke-linejoin="round" shape-rendering="auto"><path transform="translate(567.5,453.5) scale(1.000,1.000)" d="M5,1.6 Q4.4,0 2.5,0 Q0,0 0,2.2 Q0,3.9 2.5,4.5 Q5,5.1 5,6.8 Q5,9 2.5,9 Q0.6,9 0,7.4" vector-effect="non-scaling-stroke"/><path transform="translate(575.5,453.5) scale(1.000,1.000)" d="M0,0 L2,9 L4,1.5 L6,9 L8,0" vector-effect="non-scaling-stroke"/><path transform="translate(589.5,453.5) scale(0.667,1.000)" d="M0,2 L3,0 V9" vector-effect="non-scaling-stroke"/></g>
<rect x="22" y="151" width="14" height="7" fill="#000" />
<rect x="23" y="152" width="1" height="5" fill="#fff" />
<rect x="28" y="152" width="1" height="5" fill="#fff" />
<rect x="34" y="152" width="1" height="5" fill="#fff" />
<rect x="21" y="436" width="14" height="7" fill="#000" />
<rect x="22" y="437" width="1" height="5" fill="#fff" />
<rect x="28" y="437" width="1" height="5" fill="#fff" />
<rect x="33" y="437" width="1" height="5" fill="#fff" />
<rect x="23" y="328" width="19" height="6" fill="#000" />
<rect x="25" y="330" width="2" height="2" fill="#fff" />
<rect x="28" y="329" width="1" height="4" fill="#fff" />
<rect x="35" y="329" width="1" height="4" fill="#fff" />
<rect x="40" y="329" width="1" height="4" fill="#fff" />
<rect x="427" y="98" width="20" height="7" fill="#000" />
<rect x="428" y="99" width="18" height="5" fill="#fff" />
<rect x="429" y="99" width="4" height="4" fill="#000" />
<rect x="435" y="99" width="4" height="4" fill="#000" />
<rect x="441" y="99" width="4" height="4" fill="#000" />
<rect x="442" y="100" width="2" height="2" fill="#fff" />
<rect x="69" y="277" width="31" height="7" fill="#000" />
<rect x="70" y="278" width="1" height="5" fill="#fff" />
<rect x="72" y="279" width="3" height="3" fill="#fff" />
<rect x="76" y="278" width="1" height="5" fill="#fff" />
<rect x="81" y="278" width="2" height="5" fill="#fff" />
<rect x="87" y="278" width="2" height="5" fill="#fff" />
<rect x="93" y="278" width="1" height="5" fill="#fff" />
<rect x="44" y="162" width="7" height="26" fill="#000" />
<rect x="45" y="163" width="5" height="24" fill="#fff" />
<rect x="45" y="164" width="4" height="5" fill="#000" />
<rect x="46" y="165" width="2" height="3" fill="#fff" />
<rect x="47" y="166" width="1" height="1" fill="#000" />
<rect x="47" y="166" width="1" height="1" fill="#fff" />
<rect x="45" y="170" width="4" height="5" fill="#000" />
<rect x="45" y="176" width="4" height="5" fill="#000" />
<rect x="45" y="182" width="4" height="5" fill="#000" />
<rect x="44" y="191" width="7" height="26" fill="#000" />
<rect x="45" y="192" width="5" height="24" fill="#fff" />
<rect x="45" y="193" width="4" height="5" fill="#000" />
<rect x="46" y="194" width="2" height="3" fill="#fff" />
<rect x="47" y="195" width="1" height="1" fill="#000" />
<rect x="47" y="195" width="1" height="1" fill="#fff" />
<rect x="45" y="199" width="4" height="5" fill="#000" />
<rect x="45" y="205" width="4" height="5" fill="#000" />
<rect x="45" y="211" width="4" height="5" fill="#000" />
<rect x="43" y="227" width="7" height="14" fill="#000" />
<rect x="44" y="228" width="5" height="12" fill="#fff" />
<rect x="44" y="229" width="4" height="5" fill="#000" />
<rect x="44" y="235" width="4" height="5" fill="#000" />
<rect x="83" y="479" width="7" height="19" fill="#000" />
<rect x="84" y="480" width="5" height="17" fill="#fff" />
<rect x="84" y="481" width="4" height="5" fill="#000" />
<rect x="85" y="482" width="2" height="3" fill="#fff" />
<rect x="86" y="483" width="1" height="1" fill="#000" />
<rect x="86" y="483" width="1" height="1" fill="#fff" />
<rect x="84" y="487" width="4" height="4" fill="#000" />
<rect x="84" y="492" width="4" height="5" fill="#000" />
<rect x="421" y="489" width="7" height="19" fill="#000" />
<rect x="422" y="490" width="5" height="17" fill="#fff" />
<rect x="422" y="491" width="4" height="5" fill="#000" />
<rect x="423" y="492" width="2" height="3" fill="#fff" />
<rect x="424" y="493" width="1" height="1" fill="#000" />
<rect x="424" y="493" width="1" height="1" fill="#fff" />
<rect x="422" y="497" width="4" height="4" fill="#000" />
<rect x="422" y="502" width="4" height="5" fill="#000" />
<rect x="774" y="179" width="7" height="19" fill="#000" />
<rect x="775" y="180" width="5" height="17" fill="#fff" />
<rect x="775" y="181" width="4" height="5" fill="#000" />
<rect x="776" y="182" width="2" height="3" fill="#fff" />
<rect x="777" y="183" width="1" height="1" fill="#000" />
<rect x="777" y="183" width="1" height="1" fill="#fff" />
<rect x="775" y="187" width="4" height="4" fill="#000" />
<rect x="775" y="192" width="4" height="5" fill="#000" />
<rect x="731" y="316" width="7" height="26" fill="#000" />
<rect x="732" y="317" width="5" height="1" fill="#fff" />
<rect x="732" y="322" width="5" height="2" fill="#fff" />
<rect x="732" y="328" width="5" height="1" fill="#fff" />
<rect x="732" y="334" width="5" height="1" fill="#fff" />
<rect x="733" y="336" width="3" height="3" fill="#fff" />
<rect x="732" y="340" width="5" height="1" fill="#fff" />
<rect x="731" y="370" width="7" height="14" fill="#000" />
<rect x="732" y="371" width="5" height="12" fill="#fff" />
<rect x="732" y="372" width="4" height="5" fill="#000" />
<rect x="732" y="378" width="4" height="5" fill="#000" />
<rect x="732" y="382" width="5" height="1" fill="#fff" />
<rect x="731" y="386" width="7" height="13" fill="#000" />
<rect x="732" y="387" width="5" height="11" fill="#fff" />
<rect x="732" y="388" width="4" height="4" fill="#000" />
<rect x="732" y="394" width="4" height="4" fill="#000" />
<rect x="731" y="422" width="7" height="30" fill="#000" />
<rect x="732" y="423" width="5" height="28" fill="#fff" />
<rect x="732" y="424" width="4" height="5" fill="#000" />
<rect x="732" y="430" width="4" height="4" fill="#000" />
<rect x="732" y="435" width="4" height="5" fill="#000" />
<rect x="732" y="441" width="4" height="4" fill="#000" />
<rect x="732" y="446" width="4" height="5" fill="#000" />
<rect x="733" y="447" width="2" height="3" fill="#fff" />
<rect x="734" y="448" width="1" height="1" fill="#000" />
<rect x="734" y="448" width="1" height="1" fill="#fff" />
<rect x="25" y="450" width="49" height="27" fill="#000" />
<rect x="26" y="451" width="47" height="25" fill="#fff" />
<rect x="26.5" y="451.5" width="46" height="24.0" rx="3" ry="3" fill="#fff" stroke="#000" stroke-width="1" shape-rendering="auto"/>
<rect x="25" y="483" width="49" height="27" fill="#000" />
<rect x="26" y="484" width="47" height="25" fill="#fff" />
<rect x="26.5" y="483.5" width="46" height="25.0" rx="3" ry="3" fill="#fff" stroke="#000" stroke-width="1" shape-rendering="auto"/>
<defs><pattern id="dots" x="135" y="484" width="2" height="2" patternUnits="userSpaceOnUse"><rect x="0" y="0" width="2" height="2" fill="#fff"/><rect x="1" y="0" width="1" height="1" fill="#000"/></pattern></defs>
<rect x="135.5" y="484.5" width="27" height="19" rx="2" ry="2" fill="url(#dots)" stroke="#000" stroke-width="1" shape-rendering="auto"/>
<rect x="161" y="483" width="2" height="22" fill="#000" />
<rect x="163" y="487" width="6" height="1" fill="#000" />
<rect x="163" y="501" width="6" height="1" fill="#000" />
<rect x="576" y="476" width="54" height="20" fill="#000" />
<rect x="577" y="477" width="52" height="18" fill="#fff" />
<circle cx="579.7" cy="480" r="2" fill="#fff" stroke="#000" stroke-width="1" shape-rendering="auto"/>
<rect x="582" y="480" width="6" height="11" fill="#000" />
<rect x="583" y="481" width="4" height="9" fill="#fff" />
<rect x="590" y="480" width="6" height="11" fill="#000" />
<rect x="597" y="480" width="6" height="11" fill="#000" />
<rect x="604" y="480" width="6" height="11" fill="#000" />
<rect x="612" y="480" width="6" height="11" fill="#000" />
<rect x="619" y="480" width="6" height="11" fill="#000" />
<rect x="756" y="427" width="24" height="37" fill="#000" />
<rect x="780" y="423" width="3" height="46" fill="#000" />
<rect x="783" y="420" width="2" height="51" fill="#000" />
<rect x="753" y="433" width="3" height="25" fill="#000" />
<rect x="754" y="434" width="2" height="23" fill="#fff" />
<rect x="755" y="437" width="1" height="1" fill="#000" />
<rect x="755" y="439" width="1" height="1" fill="#000" />
<rect x="755" y="441" width="1" height="1" fill="#000" />
<rect x="755" y="449" width="1" height="1" fill="#000" />
<rect x="755" y="451" width="1" height="1" fill="#000" />
<rect x="755" y="453" width="1" height="1" fill="#000" />
<rect x="754" y="443" width="1" height="1" fill="#000" />
<rect x="754" y="455" width="1" height="2" fill="#000" />
<rect x="749" y="436" width="5" height="8" fill="#000" />
<rect x="750" y="437" width="3" height="6" fill="#fff" />
<rect x="749" y="447" width="5" height="9" fill="#000" />
<rect x="750" y="448" width="3" height="7" fill="#fff" />
<rect x="633" y="489" width="113" height="24" fill="#000" />
<rect x="634" y="490" width="111" height="22" fill="#fff" />
<rect x="634" y="496" width="111" height="1" fill="#000" />
<rect x="635" y="493" width="7" height="2" fill="#000" />
<rect x="637" y="492" width="4" height="1" fill="#000" />
<rect x="637" y="495" width="4" height="1" fill="#000" />
<rect x="635" y="499" width="7" height="3" fill="#000" />
<rect x="637" y="500" width="1" height="1" fill="#fff" />
<rect x="639" y="500" width="1" height="1" fill="#fff" />
<rect x="644" y="493" width="8" height="2" fill="#000" />
<rect x="646" y="492" width="5" height="1" fill="#000" />
<rect x="646" y="495" width="5" height="1" fill="#000" />
<rect x="644" y="499" width="8" height="3" fill="#000" />
<rect x="646" y="500" width="1" height="1" fill="#fff" />
<rect x="648" y="500" width="1" height="1" fill="#fff" />
<rect x="650" y="500" width="1" height="1" fill="#fff" />
<rect x="654" y="493" width="7" height="2" fill="#000" />
<rect x="656" y="492" width="4" height="1" fill="#000" />
<rect x="656" y="495" width="4" height="1" fill="#000" />
<rect x="654" y="499" width="7" height="3" fill="#000" />
<rect x="656" y="500" width="1" height="1" fill="#fff" />
<rect x="658" y="500" width="1" height="1" fill="#fff" />
<rect x="662" y="493" width="8" height="2" fill="#000" />
<rect x="664" y="492" width="5" height="1" fill="#000" />
<rect x="664" y="495" width="5" height="1" fill="#000" />
<rect x="662" y="499" width="8" height="3" fill="#000" />
<rect x="664" y="500" width="1" height="1" fill="#fff" />
<rect x="666" y="500" width="1" height="1" fill="#fff" />
<rect x="668" y="500" width="1" height="1" fill="#fff" />
<rect x="672" y="493" width="7" height="2" fill="#000" />
<rect x="674" y="492" width="4" height="1" fill="#000" />
<rect x="674" y="495" width="4" height="1" fill="#000" />
<rect x="672" y="499" width="7" height="3" fill="#000" />
<rect x="674" y="500" width="1" height="1" fill="#fff" />
<rect x="676" y="500" width="1" height="1" fill="#fff" />
<rect x="681" y="493" width="7" height="2" fill="#000" />
<rect x="683" y="492" width="4" height="1" fill="#000" />
<rect x="683" y="495" width="4" height="1" fill="#000" />
<rect x="681" y="499" width="7" height="3" fill="#000" />
<rect x="683" y="500" width="1" height="1" fill="#fff" />
<rect x="685" y="500" width="1" height="1" fill="#fff" />
<rect x="690" y="493" width="7" height="2" fill="#000" />
<rect x="692" y="492" width="4" height="1" fill="#000" />
<rect x="692" y="495" width="4" height="1" fill="#000" />
<rect x="690" y="499" width="7" height="3" fill="#000" />
<rect x="692" y="500" width="1" height="1" fill="#fff" />
<rect x="694" y="500" width="1" height="1" fill="#fff" />
<rect x="699" y="493" width="8" height="2" fill="#000" />
<rect x="701" y="492" width="5" height="1" fill="#000" />
<rect x="701" y="495" width="5" height="1" fill="#000" />
<rect x="699" y="499" width="8" height="3" fill="#000" />
<rect x="701" y="500" width="1" height="1" fill="#fff" />
<rect x="703" y="500" width="1" height="1" fill="#fff" />
<rect x="705" y="500" width="1" height="1" fill="#fff" />
<rect x="709" y="493" width="7" height="2" fill="#000" />
<rect x="711" y="492" width="4" height="1" fill="#000" />
<rect x="711" y="495" width="4" height="1" fill="#000" />
<rect x="709" y="499" width="7" height="3" fill="#000" />
<rect x="711" y="500" width="1" height="1" fill="#fff" />
<rect x="713" y="500" width="1" height="1" fill="#fff" />
<rect x="718" y="493" width="7" height="2" fill="#000" />
<rect x="720" y="492" width="4" height="1" fill="#000" />
<rect x="720" y="495" width="4" height="1" fill="#000" />
<rect x="718" y="499" width="7" height="3" fill="#000" />
<rect x="720" y="500" width="1" height="1" fill="#fff" />
<rect x="722" y="500" width="1" height="1" fill="#fff" />
<rect x="727" y="493" width="8" height="2" fill="#000" />
<rect x="729" y="492" width="5" height="1" fill="#000" />
<rect x="729" y="495" width="5" height="1" fill="#000" />
<rect x="727" y="499" width="8" height="3" fill="#000" />
<rect x="729" y="500" width="1" height="1" fill="#fff" />
<rect x="731" y="500" width="1" height="1" fill="#fff" />
<rect x="733" y="500" width="1" height="1" fill="#fff" />
<rect x="736" y="493" width="8" height="2" fill="#000" />
<rect x="738" y="492" width="5" height="1" fill="#000" />
<rect x="738" y="495" width="5" height="1" fill="#000" />
<rect x="736" y="499" width="8" height="3" fill="#000" />
<rect x="738" y="500" width="1" height="1" fill="#fff" />
<rect x="740" y="500" width="1" height="1" fill="#fff" />
<rect x="742" y="500" width="1" height="1" fill="#fff" />
<rect x="639" y="503" width="8" height="7" fill="#000" />
<rect x="640" y="504" width="6" height="5" fill="#fff" />
<rect x="649" y="503" width="8" height="7" fill="#000" />
<rect x="650" y="504" width="6" height="5" fill="#fff" />
<rect x="658" y="503" width="8" height="7" fill="#000" />
<rect x="659" y="504" width="6" height="5" fill="#fff" />
<rect x="667" y="503" width="8" height="7" fill="#000" />
<rect x="668" y="504" width="6" height="5" fill="#fff" />
<rect x="677" y="503" width="8" height="7" fill="#000" />
<rect x="678" y="504" width="6" height="5" fill="#fff" />
<rect x="686" y="503" width="8" height="7" fill="#000" />
<rect x="687" y="504" width="6" height="5" fill="#fff" />
<rect x="695" y="503" width="8" height="7" fill="#000" />
<rect x="696" y="504" width="6" height="5" fill="#fff" />
<rect x="704" y="503" width="8" height="7" fill="#000" />
<rect x="705" y="504" width="6" height="5" fill="#fff" />
<rect x="713" y="503" width="8" height="7" fill="#000" />
<rect x="714" y="504" width="6" height="5" fill="#fff" />
<rect x="722" y="503" width="8" height="7" fill="#000" />
<rect x="723" y="504" width="6" height="5" fill="#fff" />
<rect x="733" y="503" width="8" height="7" fill="#000" />
<rect x="734" y="504" width="6" height="5" fill="#fff" />
<rect x="633" y="503" width="4" height="6" fill="#000" />
<rect x="633" y="504" width="3" height="3" fill="#fff" />
<rect x="742" y="503" width="4" height="6" fill="#000" />
<rect x="743" y="504" width="3" height="3" fill="#fff" />
</svg>
</body></html>
